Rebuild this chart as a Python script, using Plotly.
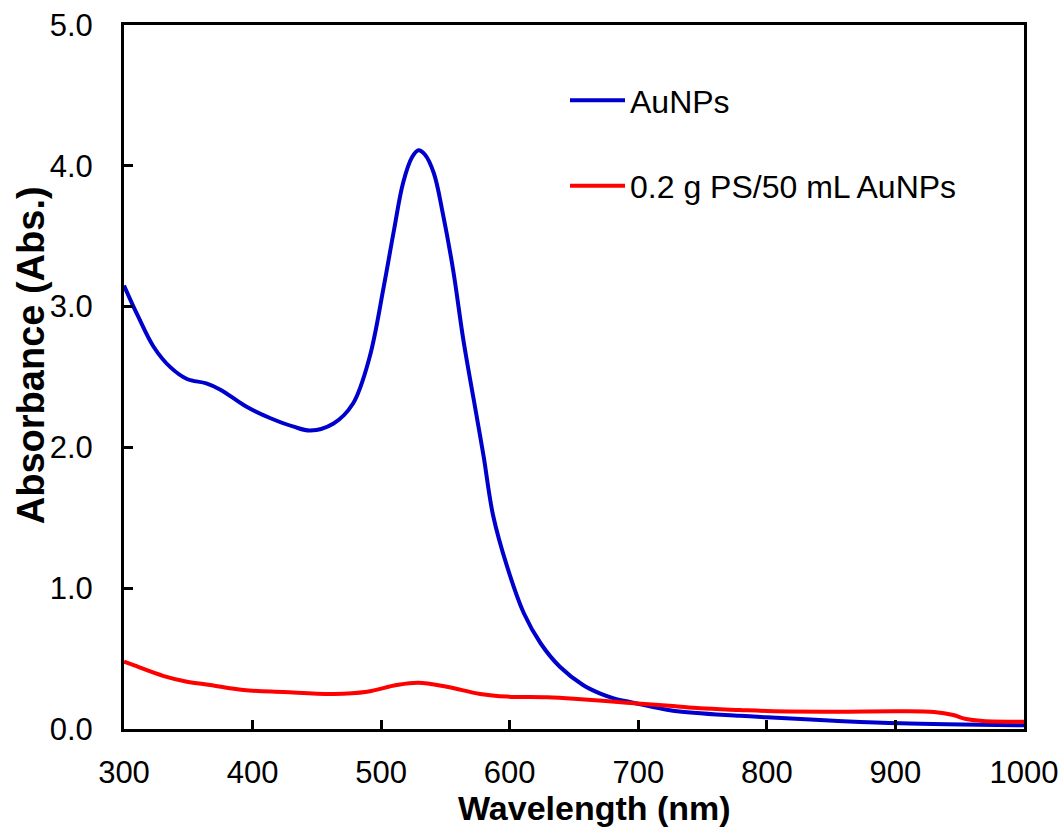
import plotly.graph_objects as go

# UV-Vis absorbance spectra
wl_aunps = [300, 311, 323, 336, 349, 364, 375, 395, 414, 432, 445, 463, 478, 491,
            502, 510, 517, 524, 529, 534, 541, 548, 556, 564, 572, 577, 580, 587,
            598, 611, 624, 639, 657, 670, 681, 696, 727, 779, 800, 852, 904, 1000]
abs_aunps = [3.15, 2.93, 2.715, 2.57, 2.486, 2.455, 2.41, 2.29, 2.207, 2.147, 2.12,
             2.17, 2.31, 2.64, 3.14, 3.544, 3.876, 4.06, 4.11, 4.08, 3.947, 3.66,
             3.26, 2.76, 2.34, 2.08, 1.92, 1.52, 1.153, 0.822, 0.609, 0.442,
             0.3125, 0.253, 0.218, 0.187, 0.13, 0.094, 0.083, 0.059, 0.04, 0.026]

wl_ps = [300, 307, 331, 349, 367, 393, 424, 463, 489, 512, 529, 551, 577, 598,
         629, 650, 691, 727, 748, 779, 800, 852, 904, 930, 945, 955, 968, 1000]
abs_ps = [0.478, 0.455, 0.376, 0.336, 0.3125, 0.277, 0.263, 0.249, 0.265, 0.3125,
          0.329, 0.3, 0.249, 0.23, 0.225, 0.215, 0.187, 0.163, 0.147, 0.135, 0.128,
          0.123, 0.126, 0.12, 0.099, 0.071, 0.057, 0.052]

x_ticks = [300, 400, 500, 600, 700, 800, 900, 1000]
y_ticks = [0, 1, 2, 3, 4, 5]
y_tick_text = ["0.0", "1.0", "2.0", "3.0", "4.0", "5.0"]

x_title = "Wavelength (nm)"
y_title = "Absorbance (Abs.)"

FONT = "Liberation Sans, Arial, sans-serif"

fig = go.Figure()
fig.add_trace(go.Scatter(
    x=wl_aunps, y=abs_aunps, mode="lines", name="AuNPs",
    line=dict(color="#0000CC", width=4, shape="spline", smoothing=1.0),
    legendgroup="a",
))
fig.add_trace(go.Scatter(
    x=wl_ps, y=abs_ps, mode="lines", name="0.2 g PS/50 mL AuNPs",
    line=dict(color="#FF0000", width=4, shape="spline", smoothing=1.0),
    legendgroup="b",
))

axis_common = dict(
    showline=True, linecolor="black", linewidth=3, mirror=True,
    ticks="inside", ticklen=9, tickwidth=3, tickcolor="black",
    showgrid=False, zeroline=False, automargin=False,
    tickfont=dict(family=FONT, size=31, color="black"),
)

fig.update_xaxes(range=[300, 1000], tickvals=x_ticks, ticklabelstandoff=14,
                 **axis_common)
fig.update_yaxes(range=[0, 5], tickvals=y_ticks, ticktext=y_tick_text,
                 ticklabelstandoff=22, **axis_common)

# axis titles placed as annotations so they can sit off-centre
title_font = dict(family=FONT, color="black", weight="bold")
fig.add_annotation(text=x_title, xref="paper", yref="paper", x=0.523, y=-0.082,
                   xanchor="center", yanchor="top", showarrow=False,
                   font=dict(title_font, size=34))
fig.add_annotation(text=y_title, xref="paper", yref="paper", x=-0.1033, y=0.531,
                   xanchor="center", yanchor="middle", showarrow=False,
                   textangle=-90, font=dict(title_font, size=38))

fig.update_layout(
    width=1064, height=829,
    margin=dict(l=124, r=40, t=25, b=100),
    paper_bgcolor="white", plot_bgcolor="white",
    showlegend=True,
    legend=dict(
        x=0.49, y=0.932, xanchor="left", yanchor="top",
        font=dict(family=FONT, size=32, color="black"),
        bgcolor="rgba(0,0,0,0)", tracegroupgap=41, traceorder="grouped",
        itemwidth=55,
    ),
)

fig.write_html("out.html")
